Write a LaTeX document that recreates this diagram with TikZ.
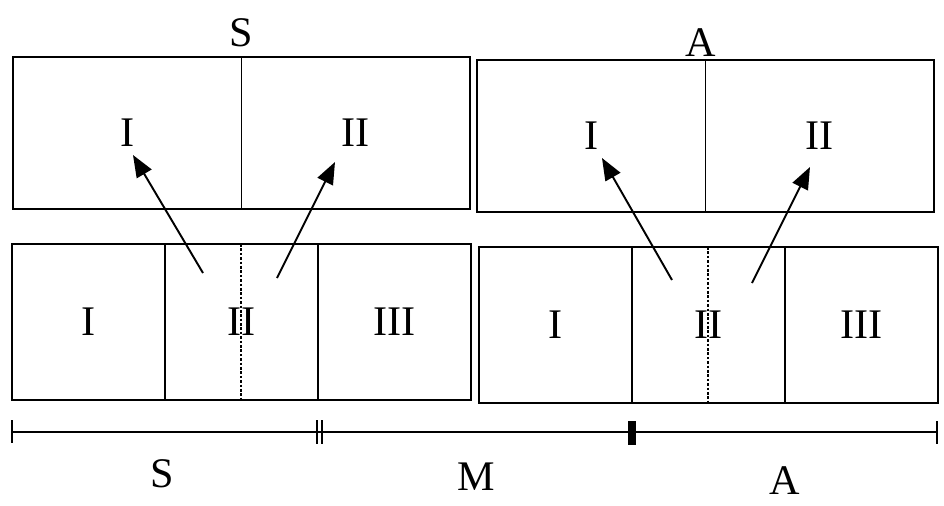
\documentclass[tikz,border=0pt]{standalone}
\usepackage{fontspec}
\setmainfont{Liberation Serif}
\usetikzlibrary{positioning,arrows.meta}

\begin{document}
\begin{tikzpicture}
        [
            x=0.02cm, y=-0.02cm,
            every node/.style={font=\fontsize{24}{28}\selectfont, inner sep=1pt},
            topcell/.style={rectangle, draw, line width=1pt, minimum width=4.57cm, minimum height=3.04cm, inner sep=0pt, outer sep=0pt},
            lowcell/.style={rectangle, draw, line width=1pt, minimum width=3.06cm, minimum height=3.12cm, inner sep=0pt, outer sep=0pt},
            seta/.style={-{Triangle[length=4.4mm,width=3.4mm]}, line width=1.1pt},
            pontilhado/.style={dash pattern=on 1.5pt off 1pt, line width=1.1pt},
            escala/.style={line width=0.8pt},
            marca/.style={line width=1.6pt},
        ]
        \useasboundingbox (0,0) rectangle (944,505);

        %Titulos
        \node                   (tituloS)   at (241,33)     {S};
        \node                   (tituloA)   at (701,43)     {A};

        %Caixas de cima
        \node[topcell, anchor=north west]   (sum)       at (13,57)              {I};
        \node[topcell]                      (sdois)     [right=0pt of sum]      {II};
        \node[topcell, anchor=north west]   (aum)       at (477,60)             {I};
        \node[topcell]                      (adois)     [right=0pt of aum]      {II};

        %Caixas de baixo
        \node[lowcell, anchor=north west]   (sbum)      at (12,244)             {I};
        \node[lowcell]                      (sbdois)    [right=0pt of sbum]     {II};
        \node[lowcell]                      (sbtres)    [right=0pt of sbdois]   {III};
        \node[lowcell, anchor=north west]   (abum)      at (479,247)            {I};
        \node[lowcell]                      (abdois)    [right=0pt of abum]     {II};
        \node[lowcell]                      (abtres)    [right=0pt of abdois]   {III};

        %Divisao pontilhada
        \draw[pontilhado] (sbdois.north) -- (sbdois.south);
        \draw[pontilhado] (abdois.north) -- (abdois.south);

        %Setas
        \coordinate (sini1) at (203,273);  \coordinate (sfim1) at (133,155);
        \coordinate (sini2) at (277,278);  \coordinate (sfim2) at (335,162);
        \coordinate (aini1) at (672,280);  \coordinate (afim1) at (602,158);
        \coordinate (aini2) at (752,283);  \coordinate (afim2) at (810,167);
        \draw[seta] (sini1) -- (sfim1);
        \draw[seta] (sini2) -- (sfim2);
        \draw[seta] (aini1) -- (afim1);
        \draw[seta] (aini2) -- (afim2);

        %Escala
        \coordinate (e0) at (12,432);
        \coordinate (e1) at (320,432);
        \coordinate (e2) at (632,432);
        \coordinate (e3) at (937,432);
        \draw[escala] (e0) -- (e3);
        \draw[marca] (e0) ++(0,-12) -- ++(0,23);
        \draw[marca] (e1) ++(-3,-12) -- ++(0,24);
        \draw[marca] (e1) ++(2,-12) -- ++(0,24);
        \fill (e2) ++(-4,-11) rectangle ++(8,24);
        \draw[marca] (e3) ++(0,-11) -- ++(0,23);

        %Rotulos da escala
        \node                   (rotS)      at (162,474)    {S};
        \node                   (rotM)      at (476,477)    {M};
        \node                   (rotA)      at (785,481)    {A};
    \end{tikzpicture}
\end{document}
